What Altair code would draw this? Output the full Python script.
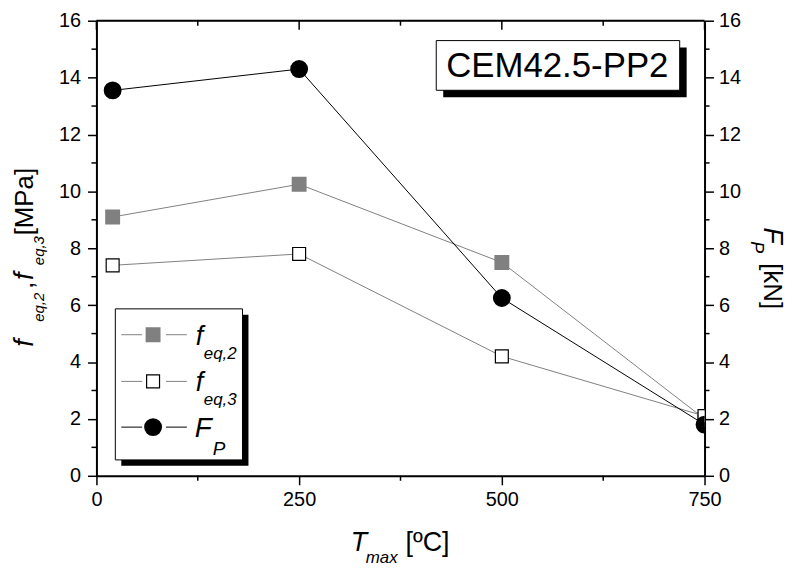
import altair as alt
import pandas as pd

# ---- data ----
T_max = [20, 250, 500, 750]
f_eq2 = [9.1, 10.25, 7.5, 2.0]
f_eq3 = [7.4, 7.8, 4.2, 2.1]
F_P = [13.55, 14.3, 6.25, 1.8]

x_major = [0, 250, 500, 750]
x_minor = [125, 375, 625]
y_major = [0, 2, 4, 6, 8, 10, 12, 14, 16]
y_minor = [1, 3, 5, 7, 9, 11, 13, 15]

W, H = 612, 458
FONT = "Liberation Sans"
GREY = "#808080"

df = pd.DataFrame({"T": T_max, "feq2": f_eq2, "feq3": f_eq3, "FP": F_P})
df_xmaj = pd.DataFrame({"v": x_major})
df_xmin = pd.DataFrame({"v": x_minor})
df_ymin = pd.DataFrame({"v": y_minor})
one = pd.DataFrame({"a": [0]})

xs = alt.Scale(domain=[0, 750], nice=False, zero=False)
ysL = alt.Scale(domain=[0, 16], nice=False)
ysR = alt.Scale(domain=[0, 16], nice=False)

common = dict(tickSize=9, tickWidth=1.5, domainWidth=2, domainColor="black",
              tickColor="black", labelFont=FONT, labelFontSize=20,
              labelColor="black", title=None, grid=False, labelFlush=False,
              labelOverlap=False)
x_axis = alt.Axis(values=x_major, labelPadding=5, orient="bottom", **common)
yL_axis = alt.Axis(values=y_major, labelPadding=7, orient="left", **common)
yR_axis = alt.Axis(values=y_major, labelPadding=5, orient="right", **common)

X = alt.X("T:Q", scale=xs, axis=x_axis)

# ---------- left group ----------
line2 = alt.Chart(df).mark_line(color=GREY, strokeWidth=1).encode(
    x=X, y=alt.Y("feq2:Q", scale=ysL, axis=yL_axis))
line3 = alt.Chart(df).mark_line(color=GREY, strokeWidth=1).encode(
    x=X, y=alt.Y("feq3:Q", scale=ysL, axis=yL_axis))
pts2 = alt.Chart(df).mark_point(shape="square", filled=True, fill=GREY, stroke=GREY,
                                size=169, opacity=1, clip=True).encode(
    x=X, y=alt.Y("feq2:Q", scale=ysL, axis=yL_axis))
pts3 = alt.Chart(df).mark_point(shape="square", filled=True, fill="white", stroke="black",
                                strokeWidth=1.2, size=169, opacity=1, clip=True).encode(
    x=X, y=alt.Y("feq3:Q", scale=ysL, axis=yL_axis))
yL_minor = alt.Chart(df_ymin).mark_rule(color="black", strokeWidth=1.5).encode(
    y=alt.Y("v:Q", scale=ysL, axis=yL_axis), x=alt.value(-5), x2=alt.value(0))
Xv = alt.X("v:Q", scale=xs, axis=x_axis)
x_minor_b = alt.Chart(df_xmin).mark_rule(color="black", strokeWidth=1.5).encode(
    x=Xv, y=alt.value(H), y2=alt.value(H + 5))
x_major_t = alt.Chart(df_xmaj).mark_rule(color="black", strokeWidth=1.5).encode(
    x=Xv, y=alt.value(0), y2=alt.value(9))
x_minor_t = alt.Chart(df_xmin).mark_rule(color="black", strokeWidth=1.5).encode(
    x=Xv, y=alt.value(0), y2=alt.value(5))
top_line = alt.Chart(one).mark_rule(color="black", strokeWidth=2).encode(
    x=alt.value(0), x2=alt.value(W), y=alt.value(0))

left = alt.layer(line2, line3, pts2, pts3, yL_minor, x_minor_b, x_major_t, x_minor_t, top_line)

# ---------- right group ----------
lineP = alt.Chart(df).mark_line(color="black", strokeWidth=1).encode(
    x=X, y=alt.Y("FP:Q", scale=ysR, axis=yR_axis))
ptsP = alt.Chart(df).mark_point(shape="circle", filled=True, fill="black", stroke="black",
                                size=256, opacity=1, clip=True).encode(
    x=X, y=alt.Y("FP:Q", scale=ysR, axis=yR_axis))
yR_minor = alt.Chart(df_ymin).mark_rule(color="black", strokeWidth=1.5).encode(
    y=alt.Y("v:Q", scale=ysR, axis=yR_axis), x=alt.value(W), x2=alt.value(W + 5))


def txt(s, x, y, size, italic=False, angle=0):
    kw = dict(text=s, font=FONT, fontSize=size, color="black", align="left",
              baseline="alphabetic")
    if italic:
        kw["fontStyle"] = "italic"
    if angle:
        kw["angle"] = angle
    return alt.Chart(one).mark_text(**kw).encode(x=alt.value(x), y=alt.value(y))


def rect(x1, y1, x2, y2, fill, stroke=None):
    kw = dict(fill=fill)
    if stroke:
        kw.update(stroke=stroke, strokeWidth=1)
    return alt.Chart(one).mark_rect(**kw).encode(
        x=alt.value(x1), x2=alt.value(x2), y=alt.value(y1), y2=alt.value(y2))


def hseg(x1, x2, y, color):
    return alt.Chart(one).mark_rule(color=color, strokeWidth=1).encode(
        x=alt.value(x1), x2=alt.value(x2), y=alt.value(y))


ann = []
# CEM box
ann += [rect(349, 27, 594, 77, "black"), rect(342, 20, 587, 70, "white", "black"),
        txt("CEM42.5-PP2", 352, 57, 35)]
# legend box
ann += [rect(25, 296, 153, 448, "black"), rect(19, 290, 147, 442, "white", "black")]
rows = [316, 363, 409]
ann += [hseg(25, 46, rows[0], GREY), hseg(70, 91, rows[0], GREY),
        hseg(25, 46, rows[1], GREY), hseg(70, 91, rows[1], GREY),
        hseg(25, 46, rows[2], "black"), hseg(70, 91, rows[2], "black")]
ann += [alt.Chart(one).mark_point(shape="square", filled=True, fill=GREY, stroke=GREY,
                                  size=169, opacity=1).encode(x=alt.value(57), y=alt.value(rows[0])),
        alt.Chart(one).mark_point(shape="square", filled=True, fill="white", stroke="black",
                                  strokeWidth=1.2, size=169, opacity=1).encode(x=alt.value(57), y=alt.value(rows[1])),
        alt.Chart(one).mark_point(shape="circle", filled=True, fill="black", stroke="black",
                                  size=256, opacity=1).encode(x=alt.value(57), y=alt.value(rows[2]))]
ann += [txt("f", 100, 326, 27, True), txt("eq,2", 108, 340, 17, True),
        txt("f", 100, 373, 27, True), txt("eq,3", 108, 387, 17, True),
        txt("F", 99, 419, 28, True), txt("P", 117, 437, 19, True)]
# x title
ann += [txt("T", 256, 534, 27, True), txt("max", 271, 546, 17, True), txt("[ºC]", 311, 534, 27)]
# left y title (reading upward)
ann += [txt("f", -64, 328, 27, True, 270), txt("eq,2", -53, 303, 15, True, 270),
        txt(",", -64, 270, 27, False, 270), txt("f", -64, 261, 27, True, 270),
        txt("eq,3", -53, 246, 15, True, 270), txt("[MPa]", -64, 216, 26, False, 270)]
# right y title (reading downward)
ann += [txt("F", 672, 208, 27, True, 90), txt("P", 659, 222, 18, True, 90),
        txt("[kN]", 672, 244, 26, False, 90)]

right = alt.layer(lineP, ptsP, yR_minor, *ann)

chart = alt.layer(left, right).resolve_scale(y="independent").properties(
    width=W, height=H,
    padding={"left": 89, "top": 11, "right": 85, "bottom": 92},
    autosize=alt.AutoSizeParams(type="none"),
).configure_view(stroke=None).configure(font=FONT)

chart.save("out.html", embed_options={"renderer": "svg", "actions": False})
